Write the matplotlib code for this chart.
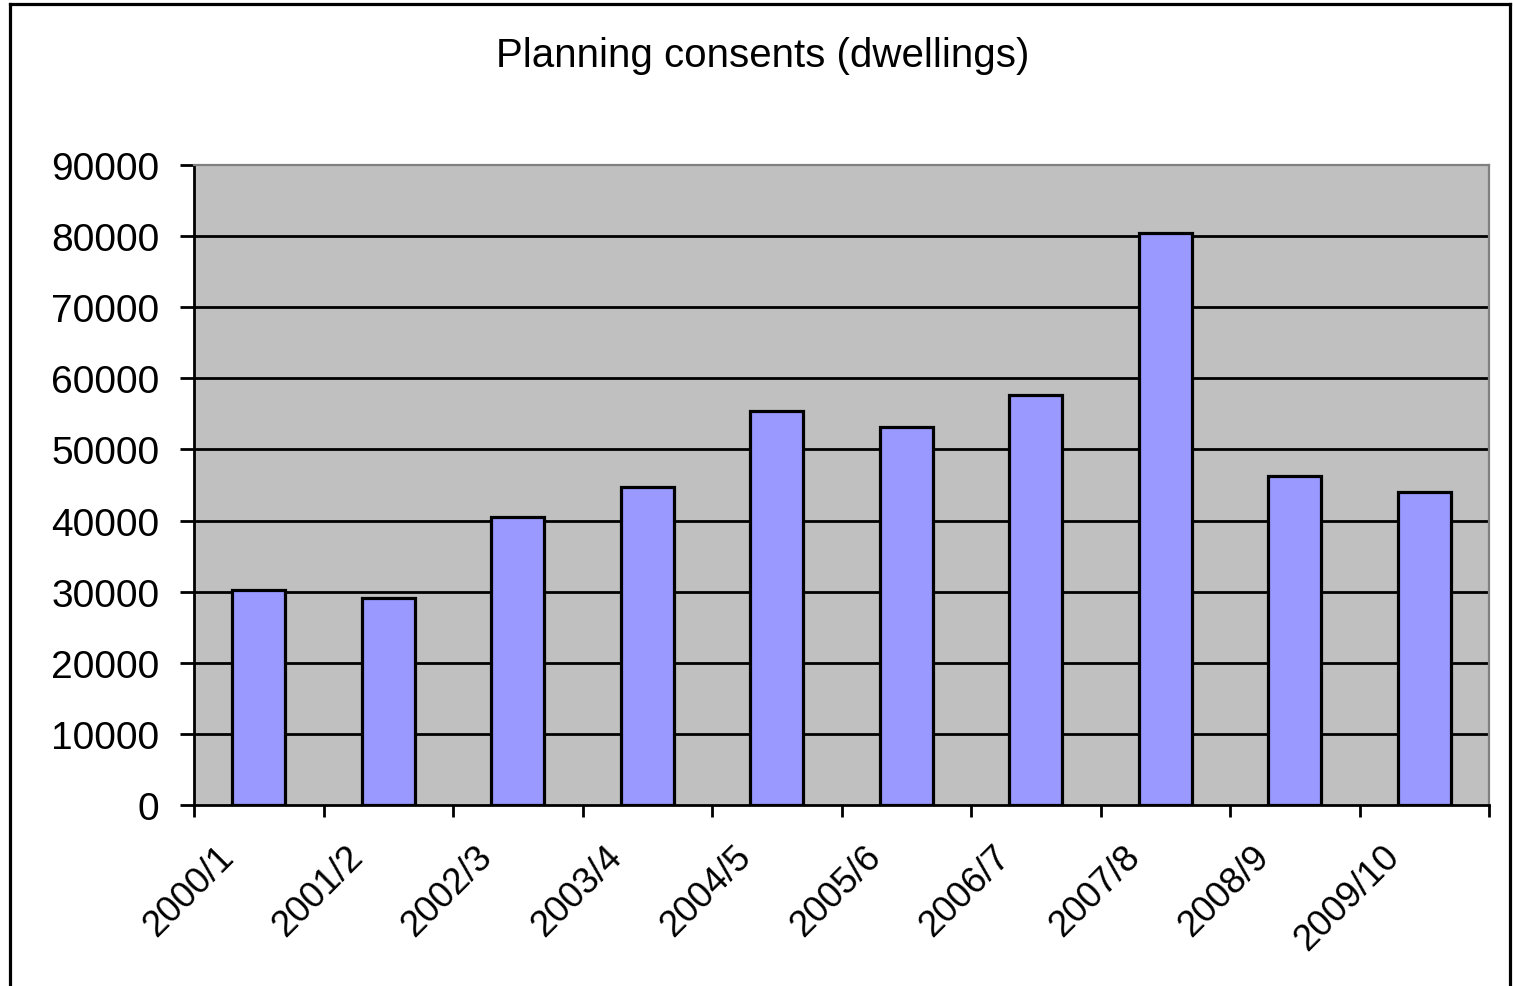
import matplotlib
matplotlib.use("Agg")
import matplotlib.pyplot as plt
from matplotlib.lines import Line2D
from matplotlib.transforms import ScaledTranslation
import numpy as np

categories = ["2000/1", "2001/2", "2002/3", "2003/4", "2004/5",
              "2005/6", "2006/7", "2007/8", "2008/9", "2009/10"]
values = [30300, 29150, 40500, 44700, 55350, 53100, 57700, 80450, 46250, 43950]
yticks = [0, 10000, 20000, 30000, 40000, 50000, 60000, 70000, 80000, 90000]
title = "Planning consents (dwellings)"

plt.rcParams['font.family'] = ['Liberation Sans', 'DejaVu Sans']

W, H = 1513, 987
fig = plt.figure(figsize=(W / 100, H / 100), dpi=100)
ax = fig.add_axes([194 / W, 1 - 806 / H, (1489 - 194) / W, (806 - 166) / H])

x = np.arange(len(categories))
ax.set_facecolor('#C0C0C0')
ax.bar(x, values, width=0.41, color='#9999FF', edgecolor='black', linewidth=2.3, zorder=3)

ax.set_xlim(-0.5, len(categories) - 0.5)
ax.set_ylim(0, 90000)

# gridlines (excluding 0 and top)
for yv in yticks[1:-1]:
    ax.axhline(yv, color='black', linewidth=2.0, zorder=1)

for s in ['left', 'bottom']:
    ax.spines[s].set_color('black')
    ax.spines[s].set_linewidth(2.0)
for s in ['top', 'right']:
    ax.spines[s].set_color('#808080')
    ax.spines[s].set_linewidth(1.6)

ax.set_yticks(yticks)
ax.set_yticklabels([str(v) for v in yticks], fontsize=28)
ax.tick_params(axis='y', direction='out', length=10, width=2, pad=15, color='black')

ax.set_xticks(x)
ax.set_xticks(np.arange(-0.5, len(categories)), minor=True)
ax.tick_params(axis='x', which='major', length=0, pad=24)
ax.tick_params(axis='x', which='minor', direction='out', length=8.5, width=2, color='black')
ax.set_xticklabels(categories, fontsize=26.5, rotation=45, ha='right', rotation_mode='anchor')
offset = ScaledTranslation(-43 / 100, 0, fig.dpi_scale_trans)
for lbl in ax.get_xticklabels():
    lbl.set_transform(lbl.get_transform() + offset)

fig.text(763 / W, 1 - 67 / H, title, ha='center', va='baseline', fontsize=29)

# figure border (left, top, right)
lw = 2.3
fig.add_artist(Line2D([10 / W, 10 / W], [0, 1 - 5 / H], color='black', linewidth=lw,
                      transform=fig.transFigure))
fig.add_artist(Line2D([10 / W, 1510 / W], [1 - 5 / H, 1 - 5 / H], color='black', linewidth=lw,
                      transform=fig.transFigure))
fig.add_artist(Line2D([1510 / W, 1510 / W], [0, 1 - 5 / H], color='black', linewidth=lw,
                      transform=fig.transFigure))

fig.savefig("out.png", dpi=100)
